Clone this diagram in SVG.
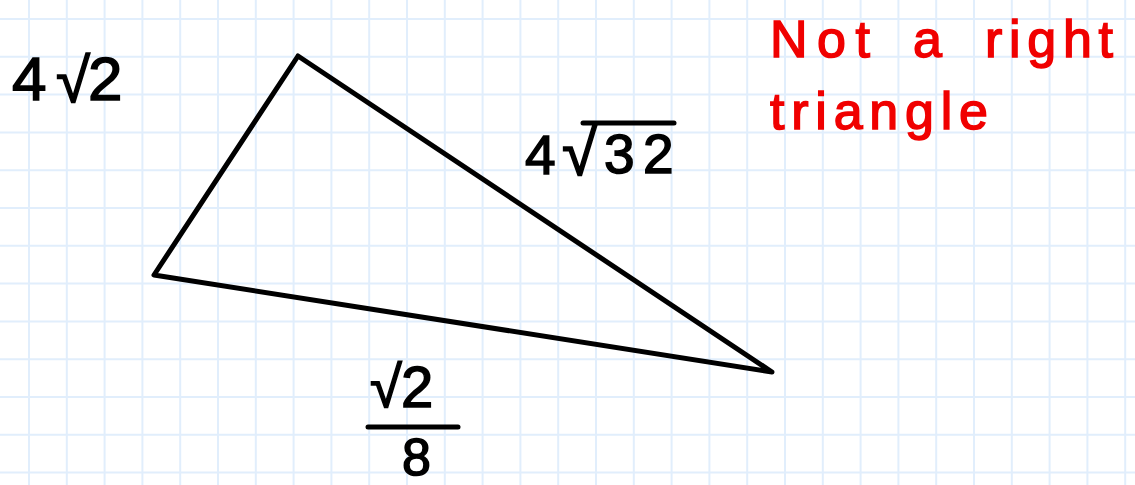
<svg xmlns="http://www.w3.org/2000/svg" width="1135" height="485" viewBox="0 0 1135 485">
  <style>
    .grid { stroke: #e1eefc; stroke-width: 2; fill: none; }
    .edge { stroke: #000; stroke-width: 5; fill: none; stroke-linejoin: round; stroke-linecap: round; }
    .lbl { font-family: "Liberation Sans", "DejaVu Sans", sans-serif; fill: #000; stroke: #000; stroke-width: 1.5; }
    .bar { stroke: #000; stroke-width: 5; stroke-linecap: round; }
    .note { font-family: "Liberation Sans", "DejaVu Sans", sans-serif; fill: #f00000; stroke: #f00000; stroke-width: 1.5; font-size: 52px; }
  </style>
  <rect width="1135" height="485" fill="#fff"/>
  <path class="grid" d="M29 0V485M66.8 0V485M104.6 0V485M142.4 0V485M180.2 0V485M218 0V485M255.8 0V485M293.6 0V485M331.4 0V485M369.2 0V485M407 0V485M444.8 0V485M482.6 0V485M520.4 0V485M558.2 0V485M596 0V485M633.8 0V485M671.6 0V485M709.4 0V485M747.2 0V485M785 0V485M822.8 0V485M860.6 0V485M898.4 0V485M936.2 0V485M974 0V485M1011.8 0V485M1049.6 0V485M1087.4 0V485M1125.2 0V485M0 19H1135M0 56.8H1135M0 94.6H1135M0 132.4H1135M0 170.2H1135M0 208H1135M0 245.8H1135M0 283.6H1135M0 321.4H1135M0 359.2H1135M0 397H1135M0 434.8H1135M0 472.6H1135"/>
  <g id="triangle">
    <polygon class="edge" points="298,56 154,275 772,372"/>
  </g>
  <g id="label-left">
    <text class="lbl" font-size="62" y="100"><tspan x="12">4</tspan><tspan x="56" y="102">√</tspan><tspan x="88" y="100">2</tspan></text>
  </g>
  <g id="label-hyp">
    <text class="lbl" font-size="55" y="174"><tspan x="525">4</tspan><tspan x="562" y="175" font-size="64">√</tspan><tspan x="604" y="173">3</tspan><tspan x="643" y="173">2</tspan></text>
    <line class="bar" x1="583" y1="123" x2="674" y2="123"/>
  </g>
  <g id="label-bottom">
    <text class="lbl" font-size="58" y="407"><tspan x="370">√</tspan><tspan x="401">2</tspan></text>
    <line class="bar" x1="368" y1="427" x2="458" y2="427"/>
    <text class="lbl" font-size="52" x="402" y="475">8</text>
  </g>
  <g id="note">
    <text class="note" y="57"><tspan x="770" textLength="100" lengthAdjust="spacing">Not</tspan> <tspan x="913">a</tspan> <tspan x="985" textLength="128" lengthAdjust="spacing">right</tspan></text>
    <text class="note" x="770" y="129" textLength="218" lengthAdjust="spacing">triangle</text>
  </g>
</svg>
